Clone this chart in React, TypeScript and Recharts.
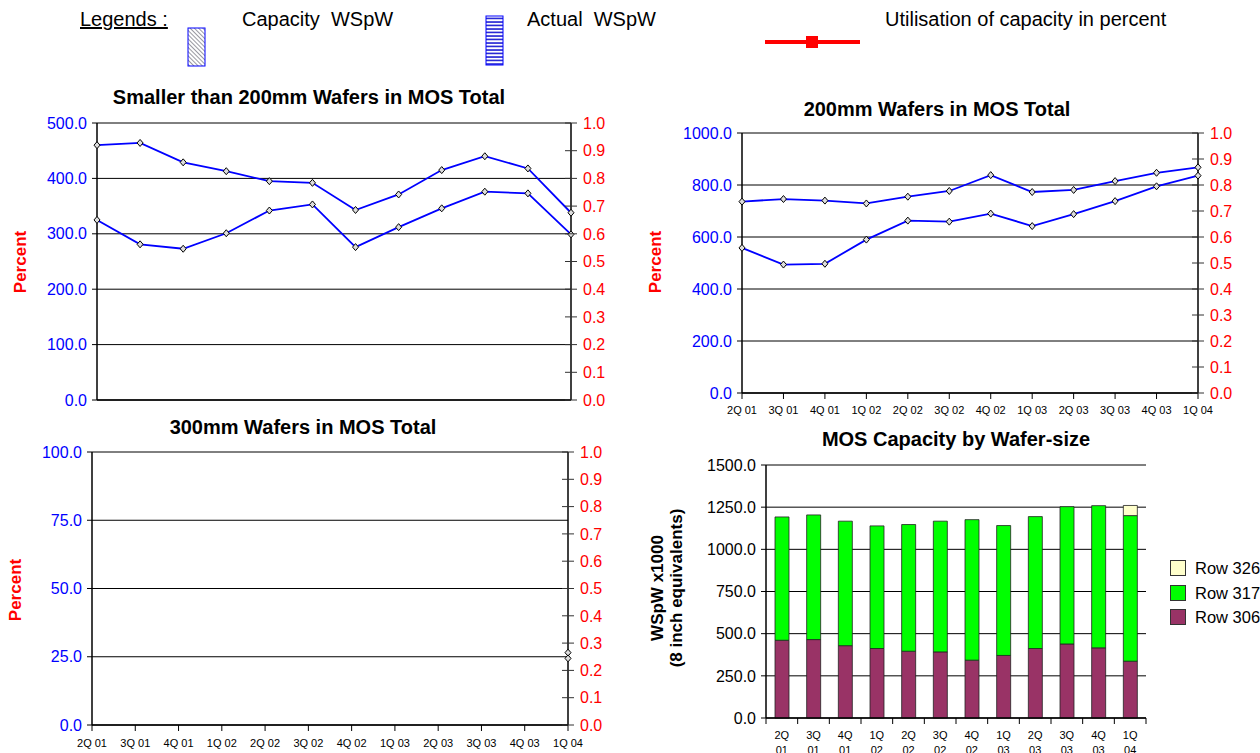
import React from "react";
import { LineChart, Line, ComposedChart, Bar, XAxis, YAxis, CartesianGrid } from "recharts";

// quarters shared by every panel
const quarters = ["2Q 01", "3Q 01", "4Q 01", "1Q 02", "2Q 02", "3Q 02", "4Q 02", "1Q 03", "2Q 03", "3Q 03", "4Q 03", "1Q 04"];

// Smaller than 200mm
const smallCapacity = [460, 464, 429, 413, 395, 392, 343, 371, 415, 440, 418, 338];
const smallActual = [325, 281, 273, 301, 342, 353, 276, 312, 346, 376, 373, 299];

// 200mm
const midCapacity = [736, 746, 740, 729, 755, 777, 838, 773, 781, 815, 847, 868];
const midActual = [558, 494, 497, 590, 663, 659, 690, 642, 688, 738, 795, 836];

// 300mm (only the last quarter has values)
const bigCapacity = [null, null, null, null, null, null, null, null, null, null, null, 26.5];
const bigActual = [null, null, null, null, null, null, null, null, null, null, null, 24.4];

// MOS capacity by wafer size
const row306 = [461, 465, 429, 412, 396, 392, 343, 371, 412, 439, 416, 337];
const row317 = [731, 739, 738, 727, 751, 775, 833, 770, 782, 814, 843, 863];
const row326 = [0, 0, 0, 0, 0, 0, 0, 0, 0, 0, 0, 60];

const smallTicks = [0, 100, 200, 300, 400, 500];
const midTicks = [0, 200, 400, 600, 800, 1000];
const bigTicks = [0, 25, 50, 75, 100];
const barTicks = [0, 250, 500, 750, 1000, 1250, 1500];
const ratioTicks = [0, 0.1, 0.2, 0.3, 0.4, 0.5, 0.6, 0.7, 0.8, 0.9, 1.0];

const FONT = "'Liberation Sans', Arial, sans-serif";
const BLUE = "#0000ff";
const RED = "#ff0000";

const toRows = (cap: (number | null)[], act: (number | null)[]) =>
  quarters.map((q, i) => ({ q, capacity: cap[i], actual: act[i], ratio: null }));

const barRows = quarters.map((q, i) => ({ q, r306: row306[i], r317: row317[i], r326: row326[i], ratio: null }));

const fmt1 = (v: number) => v.toFixed(1);

// small diamond marker
const diamond = (props: any) => {
  const { cx, cy, index } = props;
  if (cx == null || cy == null) return <g key={`d-${index}`} />;
  return (
    <path
      key={`d-${index}`}
      d={`M${cx},${cy - 3.5} L${cx + 3},${cy} L${cx},${cy + 3.5} L${cx - 3},${cy} Z`}
      fill="#ddd"
      stroke="#000"
      strokeWidth={1}
    />
  );
};

// right-hand ratio tick: line crossing the axis, red label
const RatioTick = (props: any) => {
  const { x, y, payload } = props;
  const axisX = x - 12;
  return (
    <g>
      <line x1={axisX - 6} x2={axisX + 6} y1={y} y2={y} stroke="#333" />
      <text x={x} y={y} dy="0.36em" textAnchor="start" fontSize={16} fill={RED}>
        {fmt1(payload.value)}
      </text>
    </g>
  );
};

const Title = ({ cx, cy, text }: { cx: number; cy: number; text: string }) => (
  <div style={{ position: "absolute", left: cx - 300, top: cy - 12, width: 600, textAlign: "center", fontWeight: "bold", fontSize: 20, lineHeight: "24px" }}>
    {text}
  </div>
);

const SideLabel = ({ cx, cy, lines, color, size }: { cx: number; cy: number; lines: string[]; color: string; size: number }) => (
  <div
    style={{
      position: "absolute",
      left: cx - 120,
      top: cy - 25,
      width: 240,
      height: 50,
      display: "flex",
      flexDirection: "column",
      justifyContent: "center",
      alignItems: "center",
      transform: "rotate(-90deg)",
      fontWeight: "bold",
      fontSize: size,
      lineHeight: `${size + 2}px`,
      color,
      whiteSpace: "nowrap",
    }}
  >
    {lines.map((l) => (
      <div key={l}>{l}</div>
    ))}
  </div>
);

interface PanelProps {
  left: number;
  top: number;
  width: number;
  height: number;
  marginTop: number;
  leftW: number;
  rightW: number;
  xH: number;
  data: any[];
  ticks: number[];
  showLabels: boolean;
  labelGap: number;
}

const WaferPanel = ({ left, top, width, height, marginTop, leftW, rightW, xH, data, ticks, showLabels, labelGap }: PanelProps) => (
  <div style={{ position: "absolute", left, top }}>
    <LineChart width={width} height={height} data={data} margin={{ top: marginTop, right: 0, bottom: 0, left: 0 }}>
      <CartesianGrid yAxisId="l" vertical={false} stroke="#000" strokeWidth={1} />
      <XAxis
        dataKey="q"
        scale="point"
        padding={{ left: 0, right: 0 }}
        height={xH}
        interval={0}
        tick={showLabels ? { fontSize: 11, fill: "#000" } : false}
        tickSize={6}
        tickMargin={labelGap}
        tickLine={{ stroke: "#000" }}
        axisLine={{ stroke: "#000", strokeWidth: 1.5 }}
      />
      <YAxis
        yAxisId="l"
        width={leftW}
        domain={[ticks[0], ticks[ticks.length - 1]]}
        ticks={ticks}
        tickFormatter={fmt1}
        tick={{ fill: BLUE, fontSize: 16 }}
        tickSize={5}
        tickMargin={5}
        tickLine={{ stroke: "#000" }}
        axisLine={{ stroke: "#000", strokeWidth: 1.5 }}
      />
      <YAxis
        yAxisId="r"
        orientation="right"
        width={rightW}
        domain={[0, 1]}
        allowDataOverflow
        ticks={ratioTicks}
        interval={0}
        tick={<RatioTick />}
        tickSize={6}
        tickMargin={6}
        tickLine={false}
        axisLine={{ stroke: "#000", strokeWidth: 1.5 }}
      />
      <Line yAxisId="r" dataKey="ratio" stroke="none" dot={false} legendType="none" isAnimationActive={false} />
      <Line yAxisId="l" dataKey="capacity" stroke={BLUE} strokeWidth={1.8} dot={diamond} isAnimationActive={false} connectNulls={false} />
      <Line yAxisId="l" dataKey="actual" stroke={BLUE} strokeWidth={1.8} dot={diamond} isAnimationActive={false} connectNulls={false} />
    </LineChart>
  </div>
);

const BAND = 380 / 12;

const TwoLineTick = (props: any) => {
  const { x, y, payload, index } = props;
  const [a, b] = String(payload.value).split(" ");
  const axisY = y - 12;
  return (
    <g>
      <line x1={x - BAND / 2} x2={x - BAND / 2} y1={axisY} y2={axisY + 6} stroke="#000" />
      {index === quarters.length - 1 && <line x1={x + BAND / 2} x2={x + BAND / 2} y1={axisY} y2={axisY + 6} stroke="#000" />}
      <text x={x} y={y} textAnchor="middle" fontSize={11} fill="#000">
        <tspan x={x} dy="0.85em">{a}</tspan>
        <tspan x={x} dy="1.3em">{b}</tspan>
      </text>
    </g>
  );
};

const legendRows = [
  { name: "Row 326", color: "#ffffcc" },
  { name: "Row 317", color: "#00ff00" },
  { name: "Row 306", color: "#993366" },
];

export default function App() {
  return (
    <div style={{ position: "absolute", left: 0, top: 0, width: 1260, height: 753, background: "#fff", overflow: "hidden", fontFamily: FONT }}>
      {/* header legend */}
      <div style={{ position: "absolute", left: 80, top: 8, fontSize: 20, textDecoration: "underline" }}>Legends :</div>
      <div style={{ position: "absolute", left: 242, top: 8, fontSize: 20, whiteSpace: "pre" }}>Capacity  WSpW</div>
      <div style={{ position: "absolute", left: 527, top: 8, fontSize: 20, whiteSpace: "pre" }}>Actual  WSpW</div>
      <div style={{ position: "absolute", left: 885, top: 8, fontSize: 20 }}>Utilisation of capacity in percent</div>
      <svg style={{ position: "absolute", left: 0, top: 0 }} width={1260} height={80}>
        <defs>
          <pattern id="hatch" width="3" height="3" patternUnits="userSpaceOnUse" patternTransform="rotate(-45)">
            <line x1="0" y1="0" x2="0" y2="3" stroke="#334" strokeWidth="1" />
          </pattern>
          <pattern id="hstripe" width="4" height="3.5" patternUnits="userSpaceOnUse">
            <line x1="0" y1="1" x2="4" y2="1" stroke="#0000cc" strokeWidth="1.4" />
          </pattern>
        </defs>
        <rect x={188} y={28} width={17} height={38} fill="url(#hatch)" stroke={BLUE} strokeWidth={1} />
        <rect x={486} y={16} width={17} height={49} fill="url(#hstripe)" stroke={BLUE} strokeWidth={1} />
        <line x1={765} x2={860} y1={42} y2={42} stroke={RED} strokeWidth={4} />
        <rect x={806} y={36} width={12} height={12} fill={RED} />
      </svg>

      {/* smaller than 200mm */}
      <Title cx={309} cy={97} text="Smaller than 200mm Wafers in MOS Total" />
      <WaferPanel left={0} top={85} width={620} height={330} marginTop={38} leftW={97} rightW={49} xH={15} data={toRows(smallCapacity, smallActual)} ticks={smallTicks} showLabels={false} labelGap={3} />
      <SideLabel cx={20} cy={262} lines={["Percent"]} color={RED} size={17} />

      {/* 200mm */}
      <Title cx={937} cy={109} text="200mm Wafers in MOS Total" />
      <WaferPanel left={630} top={85} width={630} height={335} marginTop={48} leftW={112} rightW={62} xH={27} data={toRows(midCapacity, midActual)} ticks={midTicks} showLabels={true} labelGap={7} />
      <SideLabel cx={655} cy={262} lines={["Percent"]} color={RED} size={17} />

      {/* 300mm */}
      <Title cx={303} cy={427} text="300mm Wafers in MOS Total" />
      <WaferPanel left={0} top={415} width={620} height={338} marginTop={37} leftW={92} rightW={52} xH={28} data={toRows(bigCapacity, bigActual)} ticks={bigTicks} showLabels={true} labelGap={8} />
      <SideLabel cx={15} cy={590} lines={["Percent"]} color={RED} size={17} />

      {/* capacity by wafer size */}
      <Title cx={956} cy={439} text="MOS Capacity by Wafer-size" />
      <div style={{ position: "absolute", left: 640, top: 420 }}>
        <ComposedChart width={620} height={333} data={barRows} margin={{ top: 45, right: 114, bottom: 0, left: 0 }} barSize={14}>
          <CartesianGrid yAxisId="l" vertical={false} stroke="#000" strokeWidth={1} />
          <XAxis dataKey="q" height={35} interval={0} tick={<TwoLineTick />} tickLine={false} tickSize={6} tickMargin={6} axisLine={{ stroke: "#000", strokeWidth: 1.5 }} />
          <YAxis
            yAxisId="l"
            width={126}
            domain={[0, 1500]}
            ticks={barTicks}
            tickFormatter={fmt1}
            tick={{ fill: "#000", fontSize: 16 }}
            tickSize={5}
            tickMargin={5}
            tickLine={{ stroke: "#000" }}
            axisLine={{ stroke: "#000", strokeWidth: 1.5 }}
          />
          <YAxis yAxisId="r" orientation="right" width={0} domain={[0, 1]} allowDataOverflow tick={false} tickLine={false} axisLine={{ stroke: "#000", strokeWidth: 1.5 }} />
          <Bar yAxisId="l" dataKey="r306" stackId="s" fill="#993366" stroke="#222" strokeWidth={0.8} isAnimationActive={false} />
          <Bar yAxisId="l" dataKey="r317" stackId="s" fill="#00ff00" stroke="#222" strokeWidth={0.8} isAnimationActive={false} />
          <Bar yAxisId="l" dataKey="r326" stackId="s" fill="#ffffcc" stroke="#222" strokeWidth={0.8} isAnimationActive={false} />
          <Line yAxisId="r" dataKey="ratio" stroke="none" dot={false} legendType="none" isAnimationActive={false} />
        </ComposedChart>
      </div>
      <SideLabel cx={667} cy={588} lines={["WSpW x1000", "(8 inch equivalents)"]} color="#000" size={17} />
      {legendRows.map((r, i) => (
        <div key={r.name} style={{ position: "absolute", left: 1170, top: 558 + i * 24.5, display: "flex", alignItems: "center", fontSize: 16.5, lineHeight: "20px", whiteSpace: "nowrap" }}>
          <div style={{ width: 14, height: 14, background: r.color, border: "1px solid #333", marginRight: 9, flexShrink: 0 }} />
          <span>{r.name}</span>
        </div>
      ))}
    </div>
  );
}
